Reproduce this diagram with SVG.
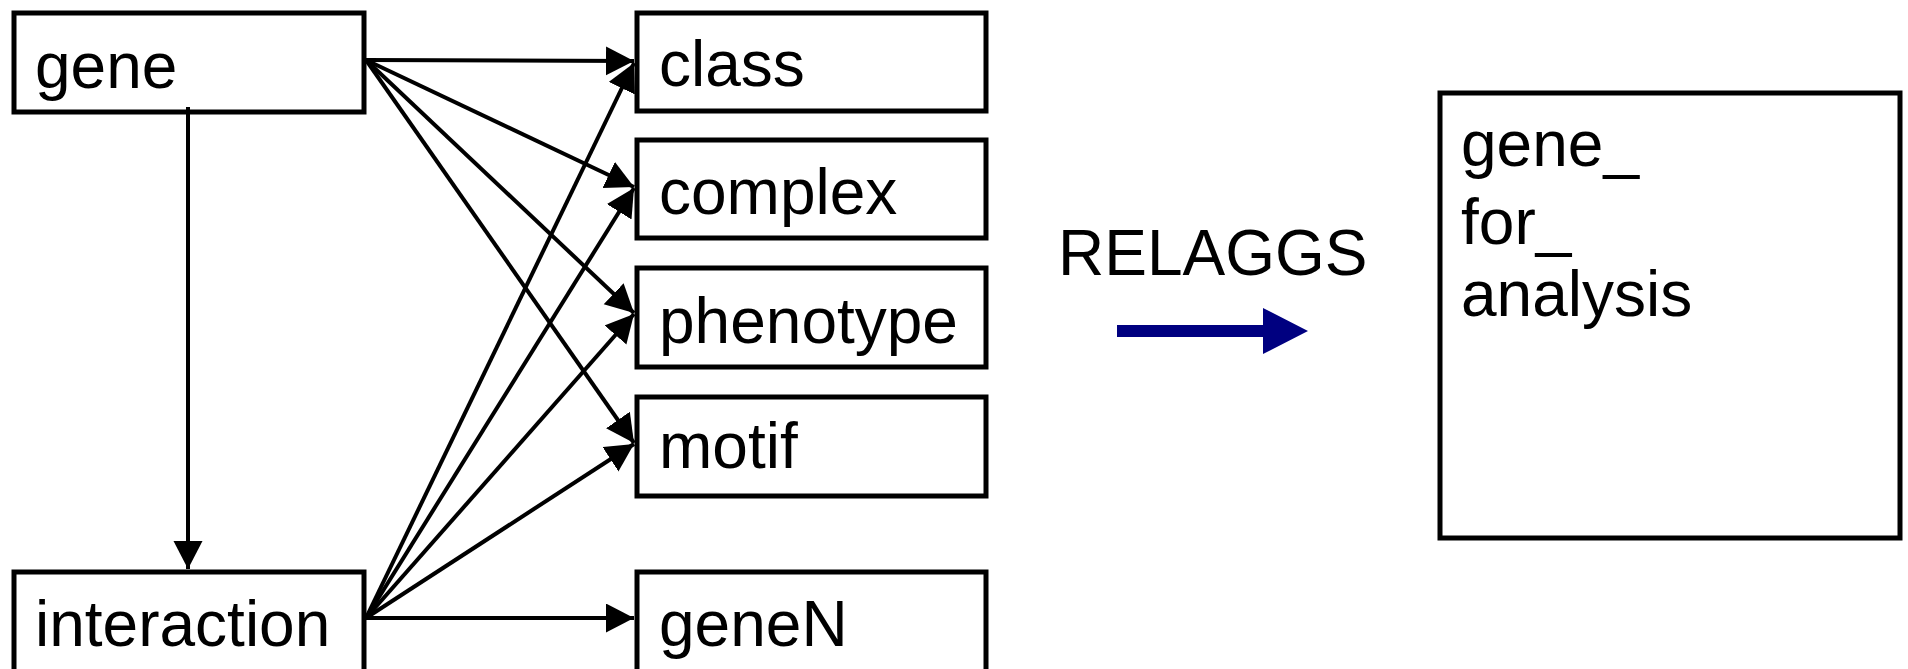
<svg xmlns="http://www.w3.org/2000/svg" width="1908" height="669" viewBox="0 0 1908 669">
<style>
.box{fill:#fff;stroke:#000;stroke-width:5}
.lbl{font-family:"Liberation Sans",Arial,sans-serif;font-size:64px;fill:#000}
.con{stroke:#000;stroke-width:4;fill:none;marker-end:url(#ah)}
</style>
<defs>
<marker id="ah" markerUnits="userSpaceOnUse" markerWidth="30" markerHeight="30" refX="28" refY="14.5" orient="auto">
<path d="M0,0 L28,14.5 L0,29 z" fill="#000"/>
</marker>
</defs>
<rect width="1908" height="669" fill="#fff"/>
<g id="gene"><rect class="box" x="14" y="13" width="350" height="99"/><text class="lbl" x="35" y="88">gene</text></g>
<g id="interaction"><rect class="box" x="14" y="572" width="350" height="110"/><text class="lbl" x="35" y="646">interaction</text></g>
<g id="class"><rect class="box" x="637" y="13" width="349" height="98"/><text class="lbl" x="659" y="86">class</text></g>
<g id="complex"><rect class="box" x="637" y="140" width="349" height="98"/><text class="lbl" x="659" y="214">complex</text></g>
<g id="phenotype"><rect class="box" x="637" y="268" width="349" height="99"/><text class="lbl" x="659" y="343">phenotype</text></g>
<g id="motif"><rect class="box" x="637" y="397" width="349" height="99"/><text class="lbl" x="659" y="468">motif</text></g>
<g id="geneN"><rect class="box" x="637" y="572" width="349" height="110"/><text class="lbl" x="659" y="646">geneN</text></g>
<g id="relaggs">
<text class="lbl" x="1058" y="275">RELAGGS</text>
<path d="M1117,325 L1263,325 L1263,308 L1308,331 L1263,354 L1263,337 L1117,337 z" fill="#000080"/>
</g>
<g id="gene_for_analysis"><rect class="box" x="1440" y="93" width="460" height="445"/>
<text class="lbl" x="1461" y="166">gene_</text>
<text class="lbl" x="1461" y="244">for_</text>
<text class="lbl" x="1461" y="316">analysis</text>
</g>
<g id="connectors">
<line class="con" x1="188" y1="107" x2="188" y2="569"/>
<line class="con" x1="366" y1="60" x2="634" y2="61"/>
<line class="con" x1="366" y1="60" x2="634" y2="187"/>
<line class="con" x1="366" y1="60" x2="634" y2="313"/>
<line class="con" x1="366" y1="60" x2="634" y2="443"/>
<line class="con" x1="366" y1="618" x2="634" y2="63"/>
<line class="con" x1="366" y1="618" x2="634" y2="188"/>
<line class="con" x1="366" y1="618" x2="634" y2="314"/>
<line class="con" x1="366" y1="618" x2="634" y2="444"/>
<line class="con" x1="366" y1="618" x2="634" y2="618"/>
</g>
</svg>
